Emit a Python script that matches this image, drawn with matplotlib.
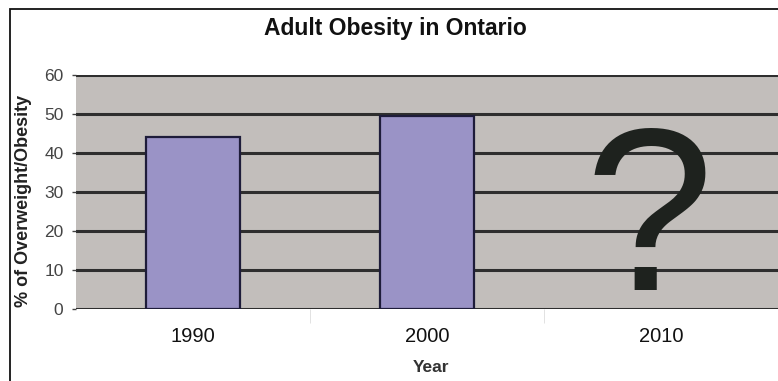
import matplotlib
matplotlib.use("Agg")
import matplotlib.pyplot as plt
from matplotlib.patches import Rectangle
import numpy as np

plt.rcParams['font.family'] = ['Liberation Sans', 'DejaVu Sans']

years = ["1990", "2000", "2010"]
values = [44.2, 49.6, 0]
yticks = [0, 10, 20, 30, 40, 50, 60]
title = "Adult Obesity in Ontario"
ylabel = "% of Overweight/Obesity"
xlabel = "Year"
unknown_label = "?"

fig = plt.figure(figsize=(7.78, 3.81), dpi=100)
W, H = 778, 381
ax = fig.add_axes([76 / W, 1 - 309 / H, (778 - 76) / W, (309 - 75) / H])

ax.set_facecolor('#c2bebb')
x = np.arange(len(years))
ax.set_xlim(-0.5, len(years) - 0.5)
ax.set_ylim(0, 60)
for yv in yticks:
    ax.axhline(yv, color='#2e2e2e', lw=2.2, zorder=1)
bars_x = x[:2]
ax.bar(bars_x, values[:2], width=0.4, color='#9a93c6', edgecolor='#1e1c3a', lw=1.6, zorder=3)

ax.text(1.95, 5, unknown_label, fontsize=167, color='#1e221e',
        ha='center', va='baseline', zorder=4)

for s in ax.spines.values():
    s.set_visible(False)
ax.set_yticks(yticks)
ax.set_yticklabels([str(v) for v in yticks], fontsize=12.5, color='#444444')
ax.tick_params(axis='y', length=3, width=1, color='#444444', pad=6)
ax.set_xticks(x)
ax.set_xticklabels(years, fontsize=14.5, color='#111111')
ax.tick_params(axis='x', length=0, pad=13)
ax.set_xticks([0.5, 1.5], minor=True)
ax.tick_params(axis='x', which='minor', length=10, color='#dddddd')

fig.text(395 / W, 1 - 28 / H, title, fontsize=16.5, fontweight='bold', ha='center', va='center', color='#111111')
fig.text(24 / W, 1 - 201 / H, ylabel, fontsize=13, fontweight='bold', rotation=90, ha='center', va='center', color='#222222')
fig.text(431 / W, 1 - 367 / H, xlabel, fontsize=12.5, fontweight='bold', ha='center', va='center', color='#333333')

fig.patches.append(Rectangle((10 / W, -0.1), 1.2, (1 - 9 / H) + 0.1, transform=fig.transFigure,
                             fill=False, edgecolor='#111111', lw=1.3))

fig.savefig('out.png', dpi=100)
